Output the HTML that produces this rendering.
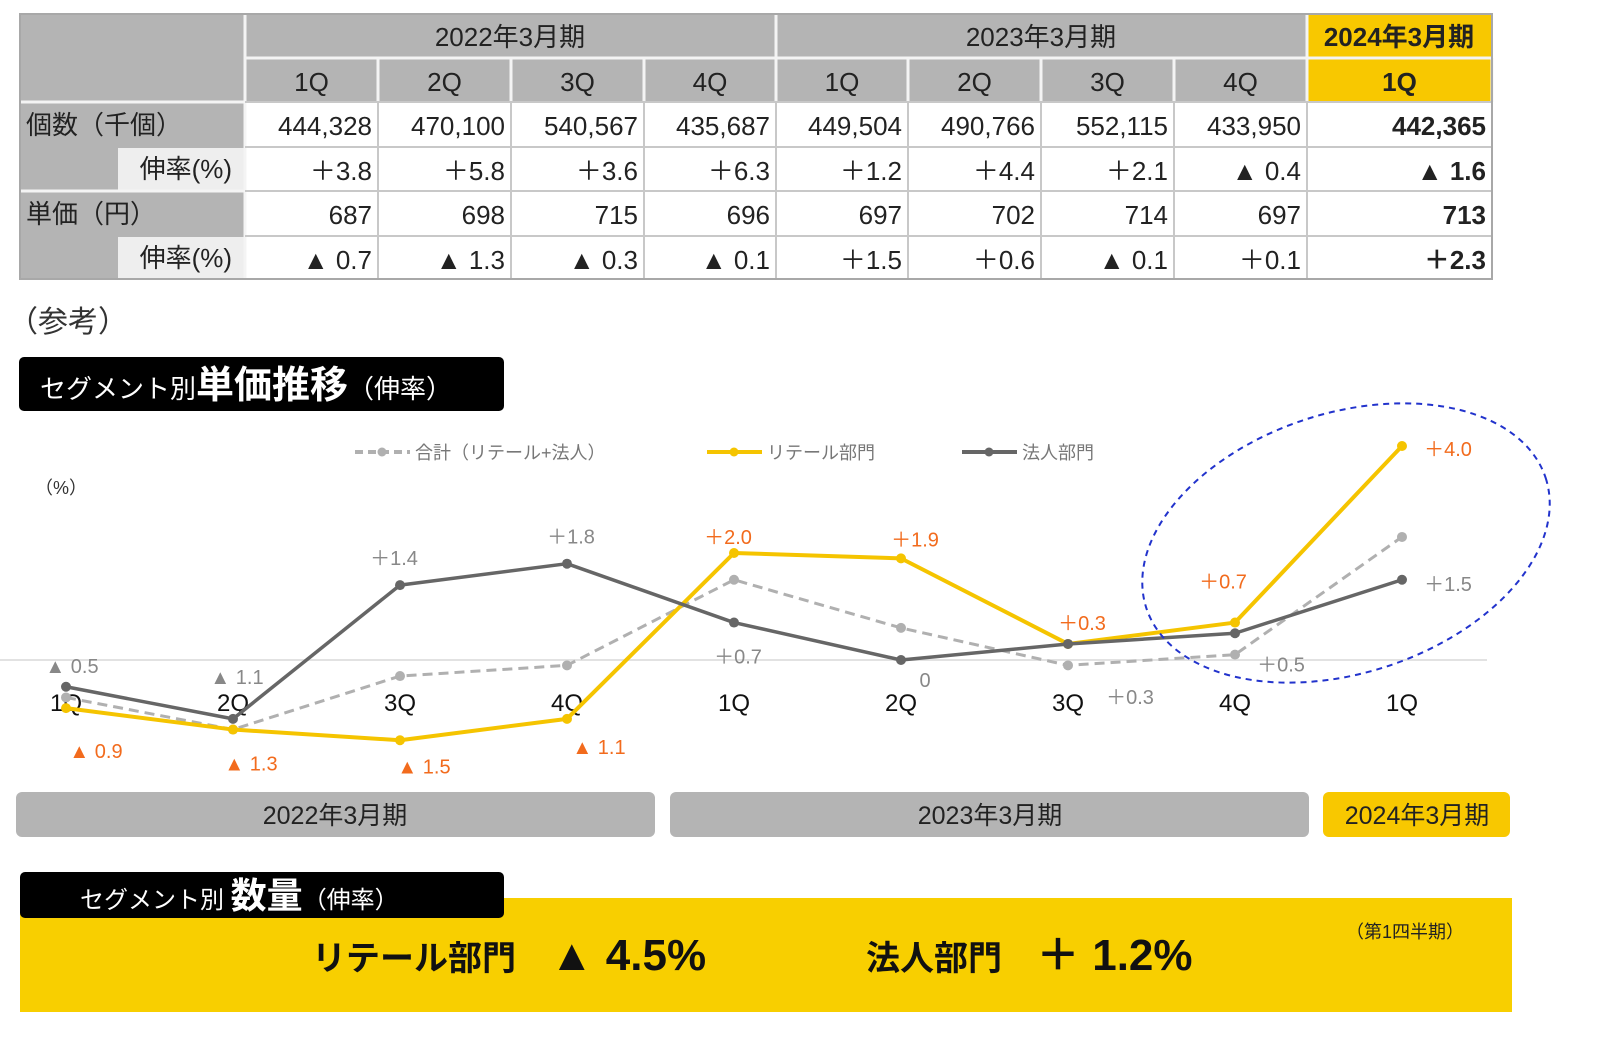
<!DOCTYPE html>
<html><head><meta charset="utf-8">
<style>
html,body{margin:0;padding:0;background:#fff;overflow:hidden;width:1600px;height:1044px;}
svg{display:block;}
svg text{font-family:"Liberation Sans","Noto Sans CJK JP",sans-serif;}
</style></head>
<body>
<svg id="root" width="1600" height="1044" viewBox="0 0 1600 1044" xmlns="http://www.w3.org/2000/svg">
<g id="table"></g>
<text x="8" y="332" font-size="30" fill="#333">（参考）</text>
<g>
<rect x="19" y="357" width="485" height="54" rx="5" fill="#000"/>
<text x="40" y="398" font-size="26" fill="#fff">セグメント別<tspan font-size="38" font-weight="bold">単価推移</tspan><tspan font-size="26">（伸率）</tspan></text>
</g>
<g id="chart"></g>
<g>
<rect x="16" y="792" width="639" height="45" rx="6" fill="#b4b4b4"/>
<text x="335" y="824" font-size="25" text-anchor="middle" fill="#222">2022年3月期</text>
<rect x="670" y="792" width="639" height="45" rx="6" fill="#b4b4b4"/>
<text x="990" y="824" font-size="25" text-anchor="middle" fill="#222">2023年3月期</text>
<rect x="1323" y="792" width="187" height="45" rx="6" fill="#f8c800"/>
<text x="1417" y="824" font-size="25" text-anchor="middle" fill="#222">2024年3月期</text>
</g>
<g>
<rect x="20" y="898" width="1492" height="114" fill="#f8cf00"/>
<rect x="20" y="872" width="484" height="46" rx="5" fill="#000"/>
<text x="80" y="908" font-size="24" fill="#fff">セグメント別 <tspan font-size="36" font-weight="bold">数量</tspan>（伸率）</text>
<text x="1405" y="938" font-size="18" text-anchor="middle" fill="#222">（第1四半期）</text>
<text x="312" y="970" font-size="34" font-weight="bold" fill="#111">リテール部門　<tspan font-size="44">▲ 4.5%</tspan></text>
<text x="866" y="970" font-size="34" font-weight="bold" fill="#111">法人部門　<tspan font-size="44">＋ 1.2%</tspan></text>
</g>
</svg>
<script>
// ---- chart data ----
const categories = ["1Q","2Q","3Q","4Q","1Q","2Q","3Q","4Q","1Q"];
const totalValues = [-0.7,-1.3,-0.3,-0.1,1.5,0.6,-0.1,0.1,2.3];
const retailValues = [-0.9,-1.3,-1.5,-1.1,2.0,1.9,0.3,0.7,4.0];
const corporateValues = [-0.5,-1.1,1.4,1.8,0.7,0,0.3,0.5,1.5];
const retailLabels = ["▲ 0.9","▲ 1.3","▲ 1.5","▲ 1.1","＋2.0","＋1.9","＋0.3","＋0.7","＋4.0"];
const corporateLabels = ["▲ 0.5","▲ 1.1","＋1.4","＋1.8","＋0.7","0","＋0.3","＋0.5","＋1.5"];
// ---- table data ----
const tableQuarters = ["1Q","2Q","3Q","4Q","1Q","2Q","3Q","4Q","1Q"];
const unitCounts = ["444,328","470,100","540,567","435,687","449,504","490,766","552,115","433,950","442,365"];
const countGrowth = ["＋3.8","＋5.8","＋3.6","＋6.3","＋1.2","＋4.4","＋2.1","▲ 0.4","▲ 1.6"];
const unitPrices = ["687","698","715","696","697","702","714","697","713"];
const priceGrowth = ["▲ 0.7","▲ 1.3","▲ 0.3","▲ 0.1","＋1.5","＋0.6","▲ 0.1","＋0.1","＋2.3"];

const NS="http://www.w3.org/2000/svg";
function mk(tag,attrs,parent){const e=document.createElementNS(NS,tag);for(const k in attrs)e.setAttribute(k,attrs[k]);parent.appendChild(e);return e;}

// table
const tg=document.getElementById('table');
const colX=[245,378,511,644,776,908,1041,1174,1307,1492];
const rowY=[14,58,102,147,191,236,279];
let r=mk('rect',{x:20,y:14,width:1472,height:265,fill:'#b4b4b4'},tg);


r=mk('rect',{x:1307,y:14,width:185,height:88,fill:'#f8c800'},tg);


[3,5].forEach(i=>{const c=mk('rect',{x:118,y:rowY[i]+1,width:126,height:rowY[i+1]-rowY[i]-2,fill:'#eeeeee'},tg);

});
mk('rect',{x:245,y:102,width:1247,height:177,fill:'#fff'},tg);
for(let i=0;i<colX.length;i++){mk('line',{x1:colX[i],y1:(i==0||i==4||i==8)?14:58,x2:colX[i],y2:102,stroke:'#f4f4f4','stroke-width':3},tg);}
mk('line',{x1:245,y1:102,x2:245,y2:279,stroke:'#f4f4f4','stroke-width':3},tg);
for(let i=2;i<6;i++){mk('line',{x1:245,y1:rowY[i],x2:1492,y2:rowY[i],stroke:'#c8c8c8','stroke-width':2},tg);}
for(let i=2;i<10;i++){mk('line',{x1:colX[i-1],y1:102,x2:colX[i-1],y2:279,stroke:'#c8c8c8','stroke-width':2},tg);}
mk('line',{x1:245,y1:58,x2:1492,y2:58,stroke:'#f4f4f4','stroke-width':3},tg);
mk('line',{x1:20,y1:102,x2:245,y2:102,stroke:'#f4f4f4','stroke-width':3},tg);
mk('line',{x1:20,y1:191,x2:245,y2:191,stroke:'#f4f4f4','stroke-width':3},tg);
mk('rect',{x:20,y:14,width:1472,height:265,fill:'none',stroke:'#a8a8a8','stroke-width':2},tg);
function tt(txt,x,y,anchor,name,bold){const t=mk('text',{x:x,y:y,'font-size':26,'text-anchor':anchor,fill:'#222','font-weight':bold?'bold':'normal'},tg);t.textContent=txt;

return t;}
tt("2022年3月期",510,46,'middle','header-fy2022');
tt("2023年3月期",1041,46,'middle','header-fy2023');
tt("2024年3月期",1399,46,'middle','header-fy2024',true);
tt("個数（千個）",26,134,'start','row-count-label');
tt("伸率(%)",232,178,'end','row-count-growth-label');
tt("単価（円）",26,223,'start','row-price-label');
tt("伸率(%)",232,267,'end','row-price-growth-label');
const rowsData=[unitCounts,countGrowth,unitPrices,priceGrowth];
tableQuarters.forEach((q,i)=>{
  const cx=(colX[i]+colX[i+1])/2, last=i==8;
  tt(q,cx,91,'middle','header-quarter',last);
  rowsData.forEach((arr,j)=>{tt(arr[i],colX[i+1]-6,rowY[j+2]+33,'end','table-cell',last);});
});

// chart
const cg=document.getElementById('chart');
const x0=66, step=167;
function xs(i){return x0+i*step;}
function ys(v){return 660-v*53.5;}
let g=mk('line',{x1:0,y1:660,x2:1487,y2:660,stroke:'#e2e2e2','stroke-width':2},cg);


let t=mk('text',{x:35,y:494,'font-size':18,fill:'#333'},cg);t.textContent='（%）';


function legend(x,color,dash,label,name){const lg=mk('g',{},cg);


mk('line',{x1:x,y1:452,x2:x+55,y2:452,stroke:color,'stroke-width':4,'stroke-dasharray':dash},lg);
mk('circle',{cx:x+27,cy:452,r:4.5,fill:color},lg);
const l=mk('text',{x:x+60,y:459,'font-size':18,fill:'#777'},lg);l.textContent=label;}
legend(355,'#b0b0b0','8 5','合計（リテール+法人）','legend-total');
legend(707,'#f5c400','none','リテール部門','legend-retail');
legend(962,'#666666','none','法人部門','legend-corporate');
categories.forEach((c,i)=>{const l=mk('text',{x:xs(i),y:711,'font-size':24,'text-anchor':'middle',fill:'#111'},cg);l.textContent=c;

});
function series(vals,color,width,dash,name){const s=mk('g',{},cg);


mk('polyline',{points:vals.map((v,i)=>xs(i)+','+ys(v)).join(' '),fill:'none',stroke:color,'stroke-width':width,'stroke-dasharray':dash,'stroke-linejoin':'round'},s);
vals.forEach((v,i)=>{const p=mk('circle',{cx:xs(i),cy:ys(v),r:5,fill:color},s);

});}
series(totalValues,'#b0b0b0',3,'10 6','series-total');
series(retailValues,'#f5c400',4,'none','series-retail');
series(corporateValues,'#666666',3.5,'none','series-corporate');
const retailOff=[[30,43],[18,34],[24,26],[32,28],[-6,-16],[14,-19],[14,-21],[-12,-41],[46,3]];
const corpOff=[[6,-21],[4,-42],[-6,-27],[4,-27],[4,34],[24,20],[62,53],[46,31],[46,4]];
retailValues.forEach((v,i)=>{const l=mk('text',{x:xs(i)+retailOff[i][0],y:ys(v)+retailOff[i][1]+7,'font-size':20,'text-anchor':'middle',fill:'#f26b1d'},cg);l.textContent=retailLabels[i];

});
corporateValues.forEach((v,i)=>{const l=mk('text',{x:xs(i)+corpOff[i][0],y:ys(v)+corpOff[i][1]+7,'font-size':20,'text-anchor':'middle',fill:'#888'},cg);l.textContent=corporateLabels[i];

});
let el=mk('ellipse',{cx:1346,cy:543,rx:210,ry:130,fill:'none',stroke:'#2233cc','stroke-width':2,'stroke-dasharray':'6 5',transform:'rotate(-18 1346 543)'},cg);


</script>
</body></html>
